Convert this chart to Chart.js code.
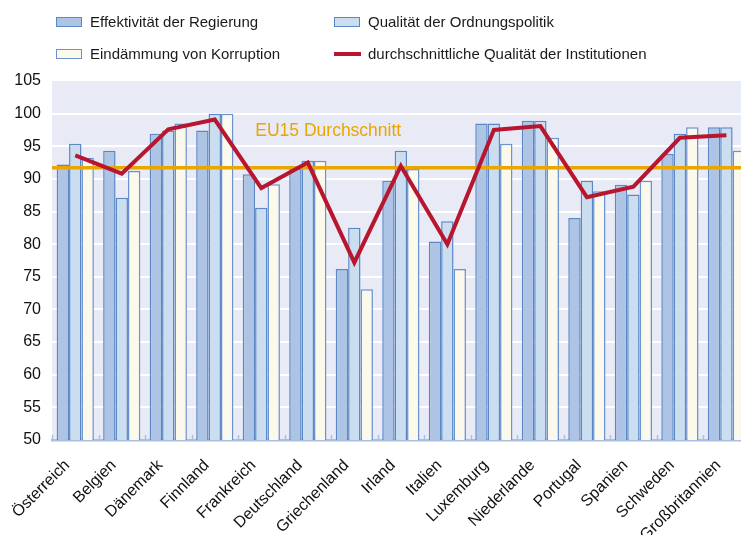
<!DOCTYPE html>
<html>
<head>
<meta charset="utf-8">
<script src="https://cdn.jsdelivr.net/npm/chart.js@4.4.1/dist/chart.umd.min.js"></script>
<style>
  html, body { margin: 0; padding: 0; background: #fff; overflow: hidden; width: 741px; height: 535px; }
  #wrap { position: relative; width: 756px; height: 535px; }
  canvas { position: absolute; left: 0; top: 0; }
  .lg { position: absolute; font-family: "Liberation Sans", Arial, sans-serif; font-size: 15px; color: #1a1a1a; white-space: nowrap; line-height: 18px; }
  .box { position: absolute; width: 24px; height: 8px; border: 1.5px solid #5b87c7; }
  .ln { position: absolute; width: 27px; height: 4px; }
</style>
</head>
<body>
<div id="wrap">
  <canvas id="c" width="756" height="535"></canvas>
  <div id="legend"></div>
</div>
<script>
const categories = ['Österreich','Belgien','Dänemark','Finnland','Frankreich','Deutschland','Griechenland','Irland','Italien','Luxemburg','Niederlande','Portugal','Spanien','Schweden','Großbritannien'];
const effektivitaet = [92.2, 94.3, 96.9, 97.4, 90.7, 91.5, 76.2, 89.7, 80.4, 98.5, 98.9, 84.0, 89.1, 93.8, 97.9];
const ordnungspolitik = [95.4, 87.1, 97.4, 100.0, 85.6, 92.8, 82.5, 94.3, 83.5, 98.5, 98.9, 89.7, 87.6, 96.9, 97.9];
const korruption = [93.25, 91.2, 98.5, 100.0, 89.2, 92.8, 73.1, 91.5, 76.2, 95.4, 96.3, 88.1, 89.7, 97.9, 94.3];
const durchschnitt = [93.6, 90.8, 97.6, 99.1, 88.6, 92.5, 77.2, 92.0, 80.0, 97.5, 98.1, 87.2, 88.8, 96.3, 96.7];
const seriesNames = ['Effektivität der Regierung', 'Qualität der Ordnungspolitik', 'Eindämmung von Korruption', 'durchschnittliche Qualität der Institutionen'];
const eu15Average = 91.7;
const eu15Label = 'EU15 Durchschnitt';
const yTicks = [50, 55, 60, 65, 70, 75, 80, 85, 90, 95, 100, 105];

const COL = {
  bar1: '#aec4e4', bar2: '#cadeef', bar3: '#fbf9ec',
  border: '#5b87c7', border3: '#6a93cf',
  line: '#b8162e', eu: '#eaa600', bg: '#e8eaf6', axis: '#a9c0e2'
};

// HTML legend
const legendItems = [
  { name: seriesNames[0], type: 'box', fill: COL.bar1, border: COL.border, left: 56, top: 17 },
  { name: seriesNames[1], type: 'box', fill: COL.bar2, border: COL.border, left: 334, top: 17 },
  { name: seriesNames[2], type: 'box', fill: COL.bar3, border: COL.border3, left: 56, top: 49 },
  { name: seriesNames[3], type: 'line', fill: COL.line, left: 334, top: 49 }
];
const lg = document.getElementById('legend');
legendItems.forEach(it => {
  const m = document.createElement('div');
  if (it.type === 'box') {
    m.className = 'box';
    m.style.left = it.left + 'px'; m.style.top = (it.top) + 'px';
    m.style.background = it.fill; m.style.borderColor = it.border;
  } else {
    m.className = 'ln';
    m.style.left = it.left + 'px'; m.style.top = (it.top + 3) + 'px';
    m.style.background = it.fill;
  }
  lg.appendChild(m);
  const t = document.createElement('div');
  t.className = 'lg';
  t.textContent = it.name;
  t.style.left = (it.left + 34) + 'px';
  t.style.top = (it.top - 4) + 'px';
  lg.appendChild(t);
});

const bgPlugin = {
  id: 'bg',
  beforeDraw(chart) {
    const { ctx, chartArea: a } = chart;
    ctx.save();
    ctx.fillStyle = COL.bg;
    ctx.fillRect(a.left, a.top, a.right - a.left, a.bottom - a.top);
    ctx.restore();
  },
  beforeDatasetsDraw(chart) {
    const { ctx, chartArea: a } = chart;
    const xs = chart.scales.x;
    const half = (xs.getPixelForValue(1) - xs.getPixelForValue(0)) / 2;
    ctx.save();
    ctx.strokeStyle = COL.axis;
    ctx.lineWidth = 1.5;
    for (let i = 0; i <= categories.length; i++) {
      const x = Math.round(xs.getPixelForValue(i) - half) + 0.5;
      ctx.beginPath();
      ctx.moveTo(x, a.bottom);
      ctx.lineTo(x, a.bottom - 5);
      ctx.stroke();
    }
    ctx.restore();
  },
  afterDatasetDraw(chart, args) {
    if (args.index !== 0) return;
    const { ctx, chartArea: a } = chart;
    const ys = chart.scales.y, xs = chart.scales.x;
    const y = ys.getPixelForValue(eu15Average);
    ctx.save();
    ctx.strokeStyle = COL.eu;
    ctx.lineWidth = 3.5;
    ctx.beginPath();
    ctx.moveTo(a.left, y);
    ctx.lineTo(a.right, y);
    ctx.stroke();
    ctx.fillStyle = COL.eu;
    ctx.font = '17.5px "Liberation Sans", Arial, sans-serif';
    ctx.textBaseline = 'middle';
    ctx.textAlign = 'left';
    ctx.fillText(eu15Label, xs.getPixelForValue(4) - 6, ys.getPixelForValue(97.3));
    ctx.restore();
  }
};

const barCommon = { borderWidth: 1.5, categoryPercentage: 0.8, barPercentage: 1.0, order: 1, borderSkipped: 'bottom' };

new Chart(document.getElementById('c'), {
  type: 'bar',
  data: {
    labels: categories,
    datasets: [
      Object.assign({ label: seriesNames[0], data: effektivitaet, backgroundColor: COL.bar1, borderColor: COL.border }, barCommon),
      Object.assign({ label: seriesNames[1], data: ordnungspolitik, backgroundColor: COL.bar2, borderColor: COL.border }, barCommon),
      Object.assign({ label: seriesNames[2], data: korruption, backgroundColor: COL.bar3, borderColor: COL.border3 }, barCommon),
      { type: 'line', label: seriesNames[3], data: durchschnitt, borderColor: COL.line, borderWidth: 4, pointRadius: 0, tension: 0, fill: false, order: 0, borderJoinStyle: 'miter' }
    ]
  },
  options: {
    responsive: false,
    animation: false,
    layout: { padding: { top: 81, left: 0, right: 0, bottom: 0 } },
    plugins: { legend: { display: false }, tooltip: { enabled: false } },
    scales: {
      x: {
        offset: true,
        grid: { display: false, drawTicks: false },
        border: { display: true, color: COL.axis, width: 2.5 },
        ticks: {
          autoSkip: false, maxRotation: 45, minRotation: 45, padding: 16, labelOffset: -8,
          color: '#111', font: { family: '"Liberation Sans", Arial, sans-serif', size: 16 }
        },
        afterFit(s) { s.height = 95; }
      },
      y: {
        min: 50, max: 105,
        afterBuildTicks(s) { s.ticks = yTicks.map(v => ({ value: v })); },
        grid: {
          drawTicks: false, lineWidth: 2,
          color: ctx => (ctx.tick && ctx.tick.value > 50 && ctx.tick.value < 105) ? '#ffffff' : 'rgba(0,0,0,0)'
        },
        border: { display: false },
        ticks: {
          padding: 11, color: '#111',
          font: { family: '"Liberation Sans", Arial, sans-serif', size: 16 }
        },
        afterFit(s) { s.width = 52; }
      }
    }
  },
  plugins: [bgPlugin]
});
</script>
</body>
</html>
